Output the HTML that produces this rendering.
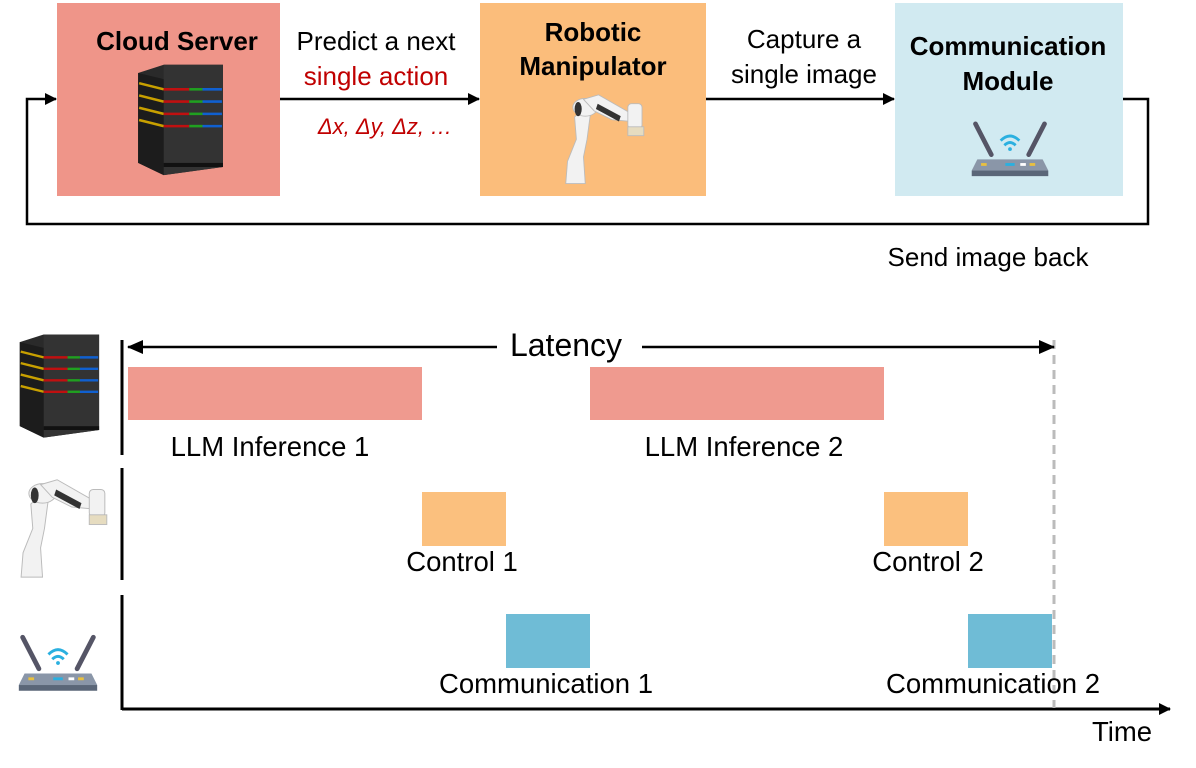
<!DOCTYPE html>
<html><head><meta charset="utf-8"><style>
body{margin:0;background:#fff;}
svg{display:block;font-family:"Liberation Sans","DejaVu Sans",sans-serif;}
</style></head><body>
<svg width="1196" height="768" viewBox="0 0 1196 768" xmlns="http://www.w3.org/2000/svg">
<defs>
<marker id="ah" markerWidth="12" markerHeight="12" refX="11" refY="6" orient="auto" markerUnits="userSpaceOnUse"><path d="M0,0 L12,6 L0,12 Z" fill="#000"/></marker>
<marker id="ahs" markerWidth="16" markerHeight="14" refX="15" refY="7" orient="auto-start-reverse" markerUnits="userSpaceOnUse"><path d="M0,0 L16,7 L0,14 Z" fill="#000"/></marker>
<symbol id="server" viewBox="0 0 90 110">
<path d="M5,8 L30,0 L88,0 L88,100 L30,108 L5,96 Z" fill="#2a2a2a"/>
<path d="M30,0 L88,0 L88,100 L30,108 Z" fill="#333"/>
<path d="M5,8 L30,14 L30,108 L5,96 Z" fill="#1c1c1c"/>
<g stroke-width="2.5">
<line x1="6" y1="18" x2="30" y2="24" stroke="#c8a000"/><line x1="30" y1="24" x2="55" y2="24" stroke="#c01010"/><line x1="55" y1="24" x2="68" y2="24" stroke="#20a020"/><line x1="68" y1="24" x2="87" y2="24" stroke="#1060d0"/>
<line x1="6" y1="30" x2="30" y2="36" stroke="#c8a000"/><line x1="30" y1="36" x2="55" y2="36" stroke="#c01010"/><line x1="55" y1="36" x2="68" y2="36" stroke="#20a020"/><line x1="68" y1="36" x2="87" y2="36" stroke="#1060d0"/>
<line x1="6" y1="42" x2="30" y2="48" stroke="#c8a000"/><line x1="30" y1="48" x2="55" y2="48" stroke="#c01010"/><line x1="55" y1="48" x2="68" y2="48" stroke="#20a020"/><line x1="68" y1="48" x2="87" y2="48" stroke="#1060d0"/>
<line x1="6" y1="54" x2="30" y2="60" stroke="#c8a000"/><line x1="30" y1="60" x2="55" y2="60" stroke="#c01010"/><line x1="55" y1="60" x2="68" y2="60" stroke="#20a020"/><line x1="68" y1="60" x2="87" y2="60" stroke="#1060d0"/>
</g>
<rect x="30" y="96" width="58" height="4" fill="#111"/>
</symbol>
<symbol id="robot" viewBox="0 0 100 115">
<g fill="#f2f2f2" stroke="#bbb" stroke-width="1">
<path d="M8,110 L10,85 L20,60 L18,35 L28,25 L36,30 L32,60 L28,80 L30,110 Z"/>
<ellipse cx="30" cy="24" rx="14" ry="10"/>
<path d="M28,15 L45,10 L80,30 L82,40 L60,38 L40,28 Z"/>
<rect x="78" y="20" width="16" height="28" rx="4"/>
<rect x="78" y="46" width="18" height="10" fill="#e6dcc0"/>
</g>
<path d="M44,20 L70,34 L68,40 L42,26 Z" fill="#333"/>
<ellipse cx="22" cy="26" rx="4" ry="8" fill="#333"/>
</symbol>
<symbol id="router" viewBox="0 0 90 60">
<line x1="8" y1="2" x2="25" y2="35" stroke="#556" stroke-width="5" stroke-linecap="round"/>
<line x1="82" y1="2" x2="65" y2="35" stroke="#556" stroke-width="5" stroke-linecap="round"/>
<path d="M35,20 Q45,10 55,20" fill="none" stroke="#2ab0e0" stroke-width="3"/>
<path d="M39,25 Q45,19 51,25" fill="none" stroke="#2ab0e0" stroke-width="3"/>
<circle cx="45" cy="29" r="2" fill="#2ab0e0"/>
<path d="M10,40 L80,40 L86,52 L4,52 Z" fill="#8a96a8"/>
<rect x="4" y="52" width="82" height="6" fill="#5a6678"/>
<rect x="14" y="44" width="6" height="3" fill="#e8c040"/><rect x="40" y="44" width="10" height="3" fill="#2ab0e0"/><rect x="56" y="44" width="6" height="3" fill="#fff"/><rect x="66" y="44" width="6" height="3" fill="#e8c040"/>
</symbol>
</defs>

<rect x="57" y="3" width="223" height="193" fill="#ef9589"/>
<rect x="480" y="3" width="226" height="193" fill="#fbbd7b"/>
<rect x="895" y="3" width="228" height="193" fill="#d1eaf1"/>
<text x="177" y="50" font-size="26" font-weight="bold" text-anchor="middle">Cloud Server</text>
<text x="593" y="41" font-size="26" font-weight="bold" text-anchor="middle">Robotic</text>
<text x="593" y="75" font-size="26" font-weight="bold" text-anchor="middle">Manipulator</text>
<text x="1008" y="55" font-size="26" font-weight="bold" text-anchor="middle">Communication</text>
<text x="1008" y="90" font-size="26" font-weight="bold" text-anchor="middle">Module</text>
<use href="#server" x="133" y="62" width="92" height="118"/>
<use href="#robot" x="550" y="86" width="106" height="102"/>
<use href="#router" x="968" y="120" width="84" height="60"/>

<line x1="280" y1="99" x2="479" y2="99" stroke="#000" stroke-width="2.5" marker-end="url(#ah)"/>
<line x1="706" y1="99" x2="894" y2="99" stroke="#000" stroke-width="2.5" marker-end="url(#ah)"/>
<polyline points="1123,99 1148,99 1148,224 27,224 27,99 56,99" fill="none" stroke="#000" stroke-width="2.5" marker-end="url(#ah)"/>

<text x="376" y="50" font-size="26" text-anchor="middle">Predict a next</text>
<text x="376" y="85" font-size="26" text-anchor="middle" fill="#c00000">single action</text>
<text x="385" y="134" font-size="22" font-style="italic" text-anchor="middle" fill="#c00000">Δx, Δy, Δz, …</text>
<text x="804" y="48" font-size="26" text-anchor="middle">Capture a</text>
<text x="804" y="83" font-size="26" text-anchor="middle">single image</text>
<text x="988" y="266" font-size="26" text-anchor="middle">Send image back</text>

<use href="#server" x="15" y="332" width="86" height="110"/>
<use href="#robot" x="13" y="470" width="98" height="112"/>
<use href="#router" x="15" y="634" width="86" height="60"/>

<g stroke="#000" stroke-width="3">
<line x1="122" y1="340" x2="122" y2="455"/>
<line x1="122" y1="468" x2="122" y2="580"/>
<line x1="122" y1="595" x2="122" y2="710"/>
</g>
<line x1="122" y1="709" x2="1170" y2="709" stroke="#000" stroke-width="3" marker-end="url(#ah)"/>
<line x1="1054" y1="340" x2="1054" y2="708" stroke="#bbb" stroke-width="3" stroke-dasharray="9,6"/>
<line x1="128" y1="347" x2="497" y2="347" stroke="#000" stroke-width="2.5" marker-start="url(#ahs)"/>
<line x1="642" y1="347" x2="1054" y2="347" stroke="#000" stroke-width="2.5" marker-end="url(#ahs)"/>
<text x="566" y="356" font-size="32" text-anchor="middle">Latency</text>

<rect x="128" y="367" width="294" height="53" fill="#ef9a8f"/>
<rect x="590" y="367" width="294" height="53" fill="#ef9a8f"/>
<rect x="422" y="492" width="84" height="54" fill="#fbc07e"/>
<rect x="884" y="492" width="84" height="54" fill="#fbc07e"/>
<rect x="506" y="614" width="84" height="54" fill="#6fbcd6"/>
<rect x="968" y="614" width="84" height="54" fill="#6fbcd6"/>

<g font-size="27.5" text-anchor="middle">
<text x="270" y="456">LLM Inference 1</text>
<text x="744" y="456">LLM Inference 2</text>
<text x="462" y="571">Control 1</text>
<text x="928" y="571">Control 2</text>
<text x="546" y="693">Communication 1</text>
<text x="993" y="693">Communication 2</text>
<text x="1122" y="741">Time</text>
</g>
</svg>
</body></html>
